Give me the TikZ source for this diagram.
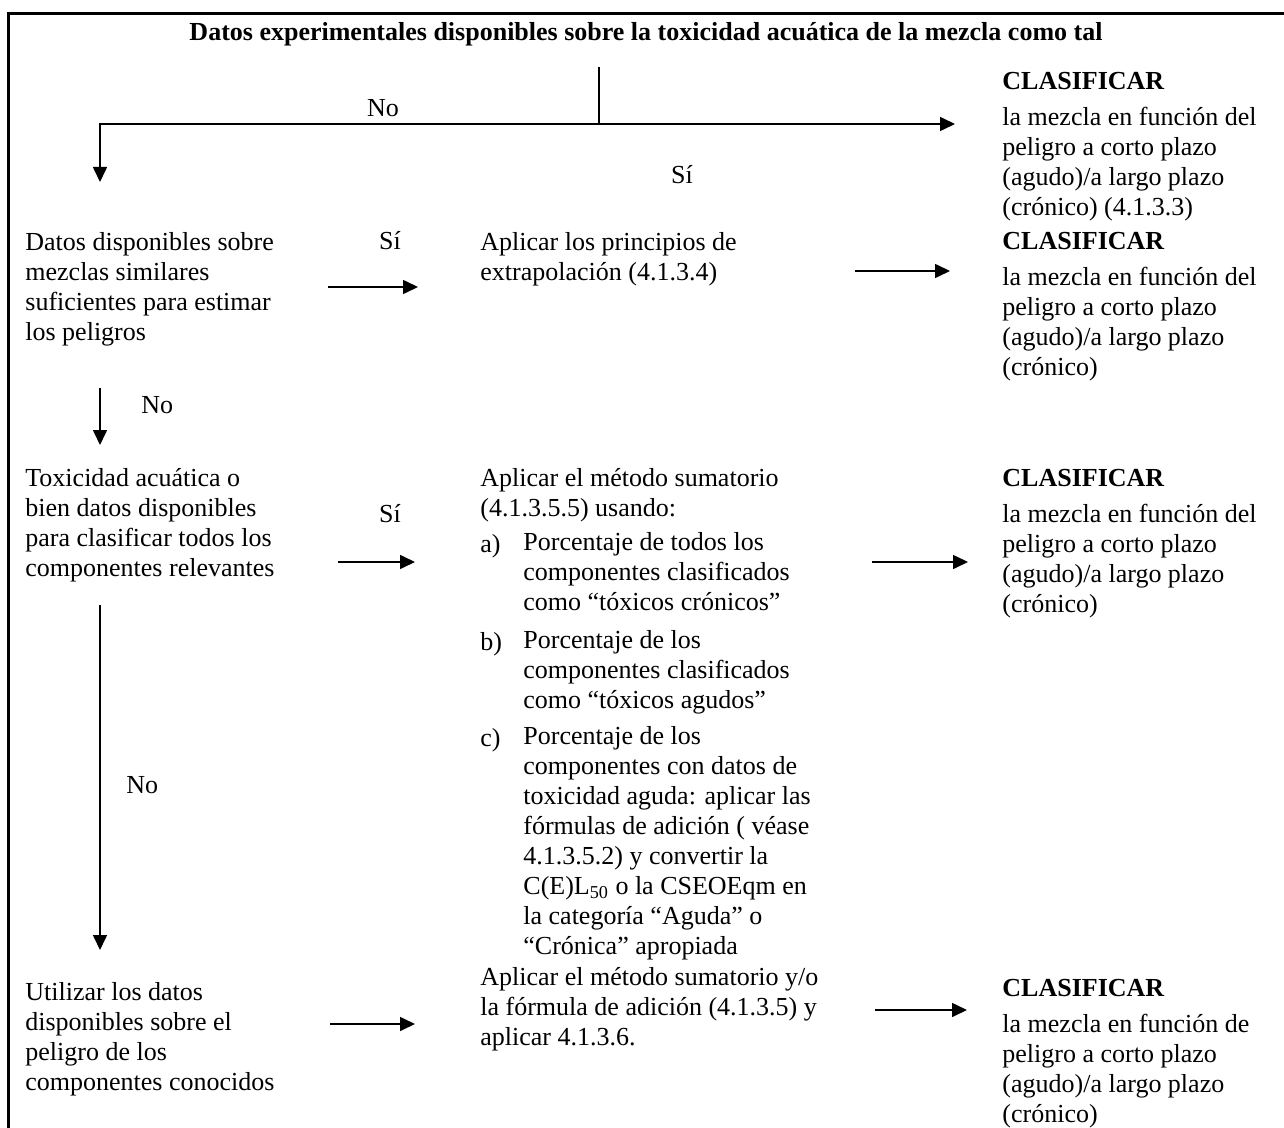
\documentclass[tikz,border=0pt]{standalone}
\usepackage{fontspec}
\setmainfont{Liberation Serif}
\usetikzlibrary{arrows.meta}
\newcommand\firststrut{\rule{0pt}{10pt}}
\begin{document}
\begin{tikzpicture}[x=0.5pt,y=-0.5pt,
  txt/.style={anchor=north west, yshift=10pt, inner sep=0pt, align=left, font=\fontsize{13}{15}\selectfont, execute at begin node=\firststrut},
  lbl/.style={anchor=base, inner sep=0pt, font=\fontsize{13}{15}\selectfont},
  ttl/.style={anchor=base, inner sep=0pt, font=\fontsize{13}{15}\selectfont\bfseries},
  arr/.style={line width=0.8pt, -{Triangle[length=7.5pt,width=7pt]}},
  ln/.style={line width=0.8pt},
  frame/.style={line width=1.5pt}]
\useasboundingbox (0,0) rectangle (1284,1128);
\draw[frame] (8,1140) -- (8,14) -- (1295,14);

% title
\node[ttl] (title) at (646,41) {Datos experimentales disponibles sobre la toxicidad acuática de la mezcla como tal};

% top connector
\coordinate (t0) at (599,67);
\coordinate (t1) at (599,124);
\coordinate (tl) at (100,124);
\coordinate (tld) at (100,182);
\coordinate (tr) at (955,124);
\draw[ln] (t0) -- (t1);
\draw[arr] (t1) -- (tl) -- (tld);
\draw[arr] (t1) -- (tr);
\node[lbl] (no1) at (383,117) {No};
\node[lbl] (si1) at (682,184) {Sí};

\node[txt] (c1) at (1002,92) {\textbf{CLASIFICAR}\\[3pt]la mezcla en función del\\peligro a corto plazo\\(agudo)/a largo plazo\\(crónico) (4.1.3.3)};

% row 2
\node[txt] (l2) at (25,252) {Datos disponibles sobre\\mezclas similares\\suficientes para estimar\\los peligros};
\node[lbl] (si2) at (390,250) {Sí};
\coordinate (a2s) at (328,287);
\coordinate (a2e) at (418,287);
\draw[arr] (a2s) -- (a2e);
\node[txt] (m2) at (480,252) {Aplicar los principios de\\extrapolación (4.1.3.4)};
\coordinate (b2s) at (855,271);
\coordinate (b2e) at (950,271);
\draw[arr] (b2s) -- (b2e);
\node[txt] (c2) at (1002,252) {\textbf{CLASIFICAR}\\[3pt]la mezcla en función del\\peligro a corto plazo\\(agudo)/a largo plazo\\(crónico)};

% down arrow 2
\coordinate (d2s) at (100,388);
\coordinate (d2e) at (100,445);
\draw[arr] (d2s) -- (d2e);
\node[lbl, anchor=base west] (no2) at (141,414) {No};

% row 3
\node[txt] (l3) at (25,488) {Toxicidad acuática o\\bien datos disponibles\\para clasificar todos los\\componentes relevantes};
\node[lbl] (si3) at (390,522) {Sí};
\coordinate (a3s) at (338,562);
\coordinate (a3e) at (415,562);
\draw[arr] (a3s) -- (a3e);
\node[txt] (m3) at (480,488) {Aplicar el método sumatorio\\(4.1.3.5.5) usando:};
\node[txt] (ia) at (480,552) {a)};
\node[txt] (ta) at (523,552) {Porcentaje de todos los\\componentes clasificados\\como “tóxicos crónicos”};
\node[txt] (ib) at (480,650) {b)};
\node[txt] (tb) at (523,650) {Porcentaje de los\\componentes clasificados\\como “tóxicos agudos”};
\node[txt] (ic) at (480,746) {c)};
\node[txt] (tc) at (523,746) {Porcentaje de los\\componentes con datos de\\toxicidad aguda: aplicar las\\fórmulas de adición ( véase\\4.1.3.5.2) y convertir la\\C(E)L\textsubscript{50} o la CSEOEqm en\\la categoría “Aguda” o\\“Crónica” apropiada};
\coordinate (b3s) at (872,562);
\coordinate (b3e) at (968,562);
\draw[arr] (b3s) -- (b3e);
\node[txt] (c3) at (1002,489) {\textbf{CLASIFICAR}\\[3pt]la mezcla en función del\\peligro a corto plazo\\(agudo)/a largo plazo\\(crónico)};

% long down arrow
\coordinate (d3s) at (100,605);
\coordinate (d3e) at (100,950);
\draw[arr] (d3s) -- (d3e);
\node[lbl, anchor=base west] (no3) at (126,793) {No};

% row 4
\node[txt] (l4) at (25,1002) {Utilizar los datos\\disponibles sobre el\\peligro de los\\componentes conocidos};
\coordinate (a4s) at (330,1024);
\coordinate (a4e) at (415,1024);
\draw[arr] (a4s) -- (a4e);
\node[txt] (m4) at (480,987) {Aplicar el método sumatorio y/o\\la fórmula de adición (4.1.3.5) y\\aplicar 4.1.3.6.};
\coordinate (b4s) at (875,1010);
\coordinate (b4e) at (967,1010);
\draw[arr] (b4s) -- (b4e);
\node[txt] (c4) at (1002,999) {\textbf{CLASIFICAR}\\[3pt]la mezcla en función de\\peligro a corto plazo\\(agudo)/a largo plazo\\(crónico)};
\end{tikzpicture}
\end{document}
